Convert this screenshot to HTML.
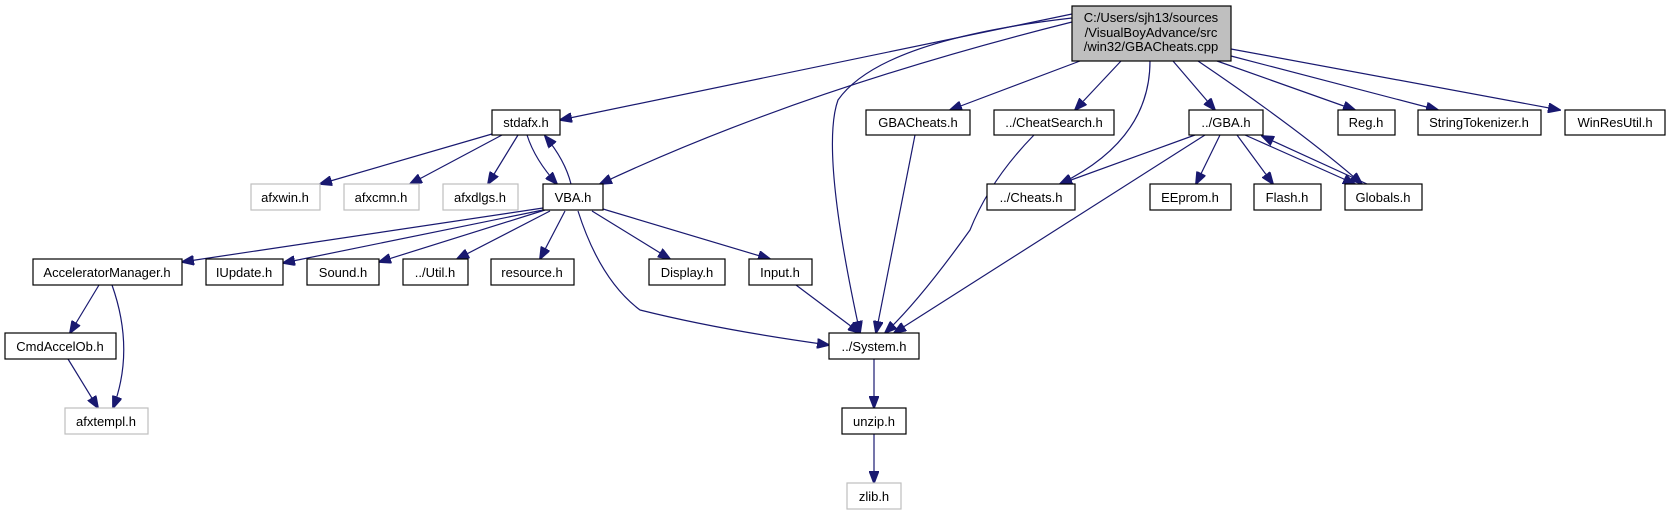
<!DOCTYPE html>
<html><head><meta charset="utf-8"><style>
body{margin:0;background:#fff;width:1669px;height:515px;overflow:hidden}
svg{display:block}
text{font-family:"Liberation Sans",Arial,sans-serif;font-size:13px;text-anchor:middle;fill:#000}
.n{fill:#fff;stroke:#000;stroke-width:1.2}
.g{fill:#fff;stroke:#bfbfbf;stroke-width:1.2}
.e{fill:none;stroke:#191970;stroke-width:1.2}
</style></head><body>
<svg width="1669" height="515" viewBox="0 0 1669 515">
<defs><marker id="a" markerWidth="13" markerHeight="10" refX="12" refY="5" orient="auto" markerUnits="userSpaceOnUse"><path d="M0,0L13,5L0,10z" fill="#191970" stroke="#191970"/></marker></defs>
<g class="e" marker-end="url(#a)">
<path d="M1072,14L560,120"/>
<path d="M1072,22Q800,90 600,184"/>
<path d="M1072,18Q880,40 838,100Q820,150 860,333"/>
<path d="M1080,61L950,110"/>
<path d="M1121,61L1075,110"/>
<path d="M1150,61Q1150,140 1060,184"/>
<path d="M1173,61L1215,110"/>
<path d="M1198,61Q1300,130 1362,184"/>
<path d="M1217,61L1355,110"/>
<path d="M1231,56L1438,110"/>
<path d="M1231,49L1560,110"/>
<path d="M492,134L320,184"/>
<path d="M502,135L410,184"/>
<path d="M518,135L488,184"/>
<path d="M527,135Q535,160 557,184"/>
<path d="M571,184Q565,160 545,136"/>
<path d="M543,208L182,262"/>
<path d="M543,210L283,263"/>
<path d="M545,210L379,262"/>
<path d="M550,211L457,259"/>
<path d="M565,211L540,259"/>
<path d="M592,211L670,259"/>
<path d="M603,209L770,259"/>
<path d="M578,211Q600,280 640,310Q720,330 829,345"/>
<path d="M796,285L860,333"/>
<path d="M915,135L876,333"/>
<path d="M1034,135Q990,180 970,230Q920,300 885,333"/>
<path d="M1195,135L1060,184"/>
<path d="M1205,135L894,333"/>
<path d="M1220,135L1196,184"/>
<path d="M1237,135L1273,184"/>
<path d="M1245,135L1355,184"/>
<path d="M1367,184L1262,136"/>
<path d="M99,285L70,333"/>
<path d="M112,285Q135,350 113,408"/>
<path d="M68,359L98,408"/>
<path d="M874,359L874,408"/>
<path d="M874,434L874,483"/>
</g>
<rect x="1072" y="6" width="159" height="55" fill="#bfbfbf" stroke="#000" stroke-width="1.2"/>
<text x="1151" y="22">C:/Users/sjh13/sources</text>
<text x="1151" y="37">/VisualBoyAdvance/src</text>
<text x="1151" y="51">/win32/GBACheats.cpp</text>
<rect class="n" x="492" y="110" width="68" height="25"/><text x="526" y="127">stdafx.h</text>
<rect class="n" x="866" y="110" width="104" height="25"/><text x="918" y="127">GBACheats.h</text>
<rect class="n" x="994" y="110" width="120" height="25"/><text x="1054" y="127">../CheatSearch.h</text>
<rect class="n" x="1189" y="110" width="74" height="25"/><text x="1226" y="127">../GBA.h</text>
<rect class="n" x="1338" y="110" width="57" height="25"/><text x="1366" y="127">Reg.h</text>
<rect class="n" x="1418" y="110" width="123" height="25"/><text x="1479" y="127">StringTokenizer.h</text>
<rect class="n" x="1565" y="110" width="100" height="25"/><text x="1615" y="127">WinResUtil.h</text>
<rect class="g" x="251" y="184" width="69" height="26"/><text x="285" y="202">afxwin.h</text>
<rect class="g" x="344" y="184" width="75" height="26"/><text x="381" y="202">afxcmn.h</text>
<rect class="g" x="443" y="184" width="75" height="26"/><text x="480" y="202">afxdlgs.h</text>
<rect class="n" x="543" y="184" width="60" height="26"/><text x="573" y="202">VBA.h</text>
<rect class="n" x="987" y="184" width="88" height="26"/><text x="1031" y="202">../Cheats.h</text>
<rect class="n" x="1150" y="184" width="81" height="26"/><text x="1190" y="202">EEprom.h</text>
<rect class="n" x="1254" y="184" width="67" height="26"/><text x="1287" y="202">Flash.h</text>
<rect class="n" x="1345" y="184" width="77" height="26"/><text x="1383" y="202">Globals.h</text>
<rect class="n" x="33" y="259" width="149" height="26"/><text x="107" y="277">AcceleratorManager.h</text>
<rect class="n" x="206" y="259" width="77" height="26"/><text x="244" y="277">IUpdate.h</text>
<rect class="n" x="307" y="259" width="72" height="26"/><text x="343" y="277">Sound.h</text>
<rect class="n" x="403" y="259" width="65" height="26"/><text x="435" y="277">../Util.h</text>
<rect class="n" x="491" y="259" width="83" height="26"/><text x="532" y="277">resource.h</text>
<rect class="n" x="649" y="259" width="76" height="26"/><text x="687" y="277">Display.h</text>
<rect class="n" x="749" y="259" width="63" height="26"/><text x="780" y="277">Input.h</text>
<rect class="n" x="5" y="333" width="111" height="26"/><text x="60" y="351">CmdAccelOb.h</text>
<rect class="n" x="829" y="333" width="90" height="26"/><text x="874" y="351">../System.h</text>
<rect class="g" x="65" y="408" width="83" height="26"/><text x="106" y="426">afxtempl.h</text>
<rect class="n" x="842" y="408" width="64" height="26"/><text x="874" y="426">unzip.h</text>
<rect class="g" x="847" y="483" width="54" height="26"/><text x="874" y="501">zlib.h</text>
</svg>
</body></html>
